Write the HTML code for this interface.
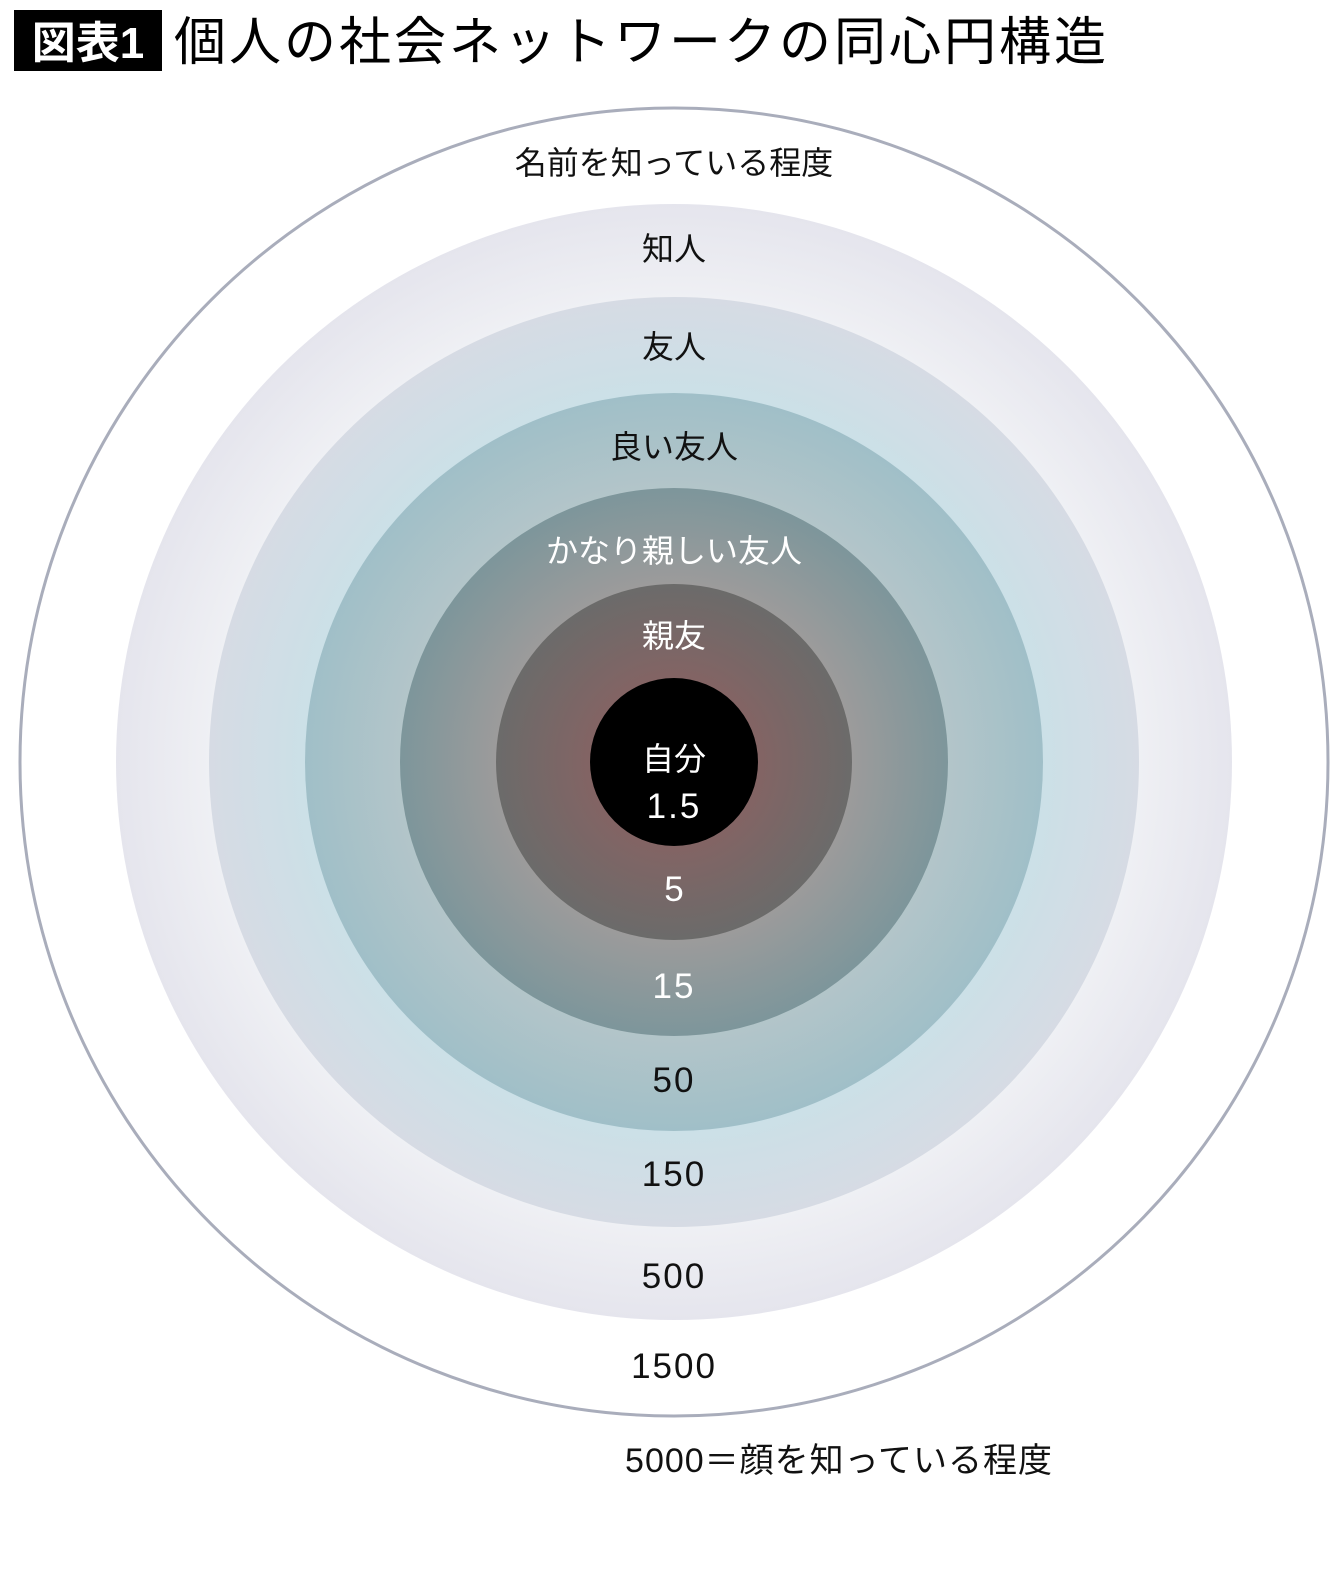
<!DOCTYPE html><html><head><meta charset="utf-8"><style>
body{margin:0;background:#fff;width:1340px;height:1570px;overflow:hidden;font-family:"Liberation Sans","Noto Sans CJK JP",sans-serif}
</style></head><body>
<svg width="1340" height="1570" xmlns="http://www.w3.org/2000/svg" style="position:absolute;left:0;top:0">
<defs>
<radialGradient id="g1" cx="674" cy="762" r="558" gradientUnits="userSpaceOnUse"><stop offset="0.83" stop-color="#eff0f4"/><stop offset="1" stop-color="#e5e5ed"/></radialGradient>
<radialGradient id="g2" cx="674" cy="762" r="465" gradientUnits="userSpaceOnUse"><stop offset="0.79" stop-color="#cbe0e7"/><stop offset="1" stop-color="#d6dbe4"/></radialGradient>
<radialGradient id="g3" cx="674" cy="762" r="369" gradientUnits="userSpaceOnUse"><stop offset="0.74" stop-color="#b3c5c9"/><stop offset="1" stop-color="#a0bfc8"/></radialGradient>
<radialGradient id="g4" cx="674" cy="762" r="274" gradientUnits="userSpaceOnUse"><stop offset="0.65" stop-color="#9c9b9b"/><stop offset="1" stop-color="#7d969b"/></radialGradient>
<radialGradient id="g5" cx="674" cy="762" r="178" gradientUnits="userSpaceOnUse"><stop offset="0.47" stop-color="#836464"/><stop offset="1" stop-color="#6b6b6a"/></radialGradient>
</defs>
<rect x="14" y="10" width="148" height="61" fill="#000"/>
<text x="88" y="58" font-size="44" fill="#fff" text-anchor="middle" font-weight="bold">図表1</text>
<text x="174" y="60" font-size="52" letter-spacing="3" fill="#000">個人の社会ネットワークの同心円構造</text>
<circle cx="674" cy="762" r="654" fill="#fff" stroke="#a9adbb" stroke-width="3"/>
<circle cx="674" cy="762" r="558" fill="url(#g1)"/>
<circle cx="674" cy="762" r="465" fill="url(#g2)"/>
<circle cx="674" cy="762" r="369" fill="url(#g3)"/>
<circle cx="674" cy="762" r="274" fill="url(#g4)"/>
<circle cx="674" cy="762" r="178" fill="url(#g5)"/>
<circle cx="674" cy="762" r="84" fill="#000"/>
<g font-size="32" text-anchor="middle" fill="#111">
<text x="674" y="174">名前を知っている程度</text>
<text x="674" y="260">知人</text>
<text x="674" y="358">友人</text>
<text x="674" y="458">良い友人</text>
<text x="674" y="562" fill="#fff">かなり親しい友人</text>
<text x="674" y="647" fill="#fff">親友</text>
<text x="674" y="770" fill="#fff">自分</text>
<text x="674" y="818" fill="#fff" font-size="35" letter-spacing="2">1.5</text>
<text x="674" y="901" fill="#fff" font-size="35">5</text>
<text x="674" y="998" fill="#fff" font-size="35" letter-spacing="2">15</text>
<text x="674" y="1092" font-size="35" letter-spacing="2">50</text>
<text x="674" y="1186" font-size="35" letter-spacing="2">150</text>
<text x="674" y="1288" font-size="35" letter-spacing="2">500</text>
<text x="674" y="1378" font-size="35" letter-spacing="2">1500</text>
<text x="839" y="1472" font-size="34" letter-spacing="1">5000＝顔を知っている程度</text>
</g>
</svg>
</body></html>
